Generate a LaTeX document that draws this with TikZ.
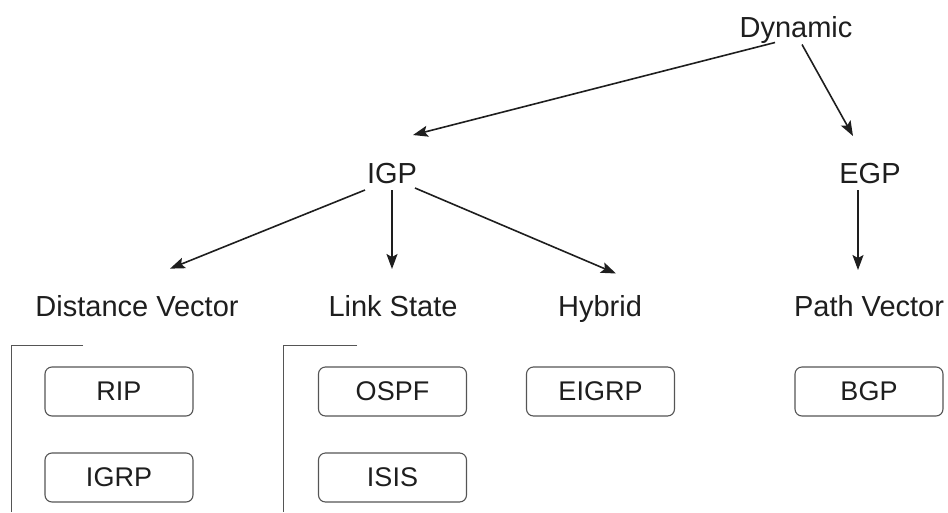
\documentclass[tikz,border=0pt]{standalone}
\usepackage{fontspec}
\setmainfont{Liberation Sans}
\usetikzlibrary{arrows.meta,calc}
\definecolor{txt}{HTML}{1E1E1E}
\definecolor{boxline}{HTML}{555555}
\tikzset{
  lbl/.style={inner sep=0pt, anchor=base, text=txt, font=\fontsize{29}{34}\selectfont},
  proto/.style={draw=boxline, line width=1.1pt, rounded corners=7pt, minimum width=148pt, minimum height=49pt, inner sep=0pt, text=txt, font=\fontsize{27}{32}\selectfont},
  arr/.style={line width=1.6pt, draw=txt, -{Stealth[length=15pt,width=11pt,inset=3pt]}},
  brk/.style={draw=boxline, line width=1pt}
}
\begin{document}
\begin{tikzpicture}[x=1pt,y=-1pt]
\useasboundingbox (0,0) rectangle (948,512);
\node[lbl] (dyn) at (796,37) {Dynamic};
\node[lbl] (igp) at (392,183) {IGP};
\node[lbl] (egp) at (870,183) {EGP};
\node[lbl] (dv) at (137,316) {Distance Vector};
\node[lbl] (ls) at (393,316) {Link State};
\node[lbl] (hy) at (600,316) {Hybrid};
\node[lbl] (pv) at (869,316) {Path Vector};

\draw[arr] ($(dyn)+(-21,13)$) -- ($(igp)+(21,-38)$);
\draw[arr] ($(dyn)+(6,15)$) -- ($(egp)+(-17,-37)$);
\draw[arr] ($(igp)+(-27,17)$) -- ($(dv)+(33,-37)$);
\draw[arr] ($(igp)+(0,17)$) -- ($(igp)+(0,96)$);
\draw[arr] ($(igp)+(23,15)$) -- ($(hy)+(16,-35)$);
\draw[arr] ($(egp)+(-12,17)$) -- ($(egp)+(-12,97)$);

\node[proto] (rip) at (119,391.5) {RIP};
\node[proto] (igrp) at (119,477.5) {IGRP};
\node[proto] (ospf) at (392.5,391.5) {OSPF};
\node[proto] (isis) at (392.5,477.5) {ISIS};
\node[proto] (eigrp) at (600.5,391.5) {EIGRP};
\node[proto] (bgp) at (869,391.5) {BGP};

\coordinate (b1t) at (11,345);
\coordinate (b1r) at (83,345);
\coordinate (b1b) at (11,512);
\coordinate (b2t) at (283,345);
\coordinate (b2r) at (357,345);
\coordinate (b2b) at (283,512);
\draw[brk] (b1r) -- (b1t) -- (b1b);
\draw[brk] (b2r) -- (b2t) -- (b2b);
\end{tikzpicture}
\end{document}
